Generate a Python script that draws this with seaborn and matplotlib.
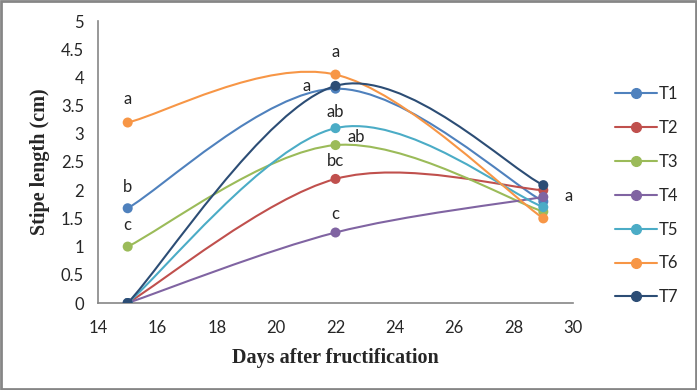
import numpy as np
import pandas as pd
import seaborn as sns
import matplotlib.pyplot as plt
from matplotlib.path import Path
from matplotlib.patches import PathPatch, Rectangle
from matplotlib.lines import Line2D

# data
days = [15, 22, 29]
treatments = ["T1", "T2", "T3", "T4", "T5", "T6", "T7"]
t1 = [1.68, 3.80, 1.80]
t2 = [0.00, 2.20, 2.00]
t3 = [1.00, 2.80, 1.62]
t4 = [0.00, 1.25, 1.88]
t5 = [0.00, 3.10, 1.70]
t6 = [3.20, 4.05, 1.50]
t7 = [0.00, 3.85, 2.09]
series = [t1, t2, t3, t4, t5, t6, t7]

# significance letters per treatment and day ("" = none)
letters = {
    "T1": ["b", "", ""],
    "T2": ["", "bc", ""],
    "T3": ["c", "ab", ""],
    "T4": ["", "c", "a"],
    "T5": ["", "ab", ""],
    "T6": ["a", "a", ""],
    "T7": ["", "a", ""],
}

colors = ["#4F81BD", "#C0504D", "#9BBB59", "#8064A2", "#4BACC6", "#F79646", "#2C4D75"]

sns.set_style("white")
tick_font = "Lato"
label_font = "Liberation Serif"
fs = 12


def smooth_path(xs, ys):
    # excel-style smoothed line: cubic bezier, catmull-rom control points
    pts = np.column_stack([xs, ys]).astype(float)
    n = len(pts)
    verts = [pts[0]]
    codes = [Path.MOVETO]
    for i in range(n - 1):
        p0 = pts[max(i - 1, 0)]
        p1 = pts[i]
        p2 = pts[i + 1]
        p3 = pts[min(i + 2, n - 1)]
        c1 = p1 + (p2 - p0) / 6.0
        c2 = p2 - (p3 - p1) / 6.0
        verts += [c1, c2, p2]
        codes += [Path.CURVE4] * 3
    return Path(verts, codes)


fig = plt.figure(figsize=(6.97, 3.90), dpi=100)
ax = fig.add_axes([98 / 697, 1 - 303 / 390, 475 / 697, 282 / 390])

for k, (name, vals, col) in enumerate(zip(treatments, series, colors)):
    z = 3 + k * 0.1
    ax.add_patch(PathPatch(smooth_path(days, vals), facecolor="none",
                           edgecolor=col, lw=1.5, zorder=z))
    df = pd.DataFrame({"day": days, "len": vals})
    sns.scatterplot(data=df, x="day", y="len", color=col, s=52,
                    edgecolor="none", ax=ax, zorder=z + 0.05)

# letter offsets (points) for each labelled marker
offsets = {
    ("T1", 0): (0, 12), ("T3", 0): (0, 12), ("T6", 0): (0, 13),
    ("T6", 1): (0, 13), ("T7", 1): (-21, -3.5), ("T5", 1): (0, 8),
    ("T3", 1): (15, 2), ("T2", 1): (0, 9.5), ("T4", 1): (0, 9.5),
    ("T4", 2): (18, -3),
}
for name, vals in zip(treatments, series):
    for j, lab in enumerate(letters[name]):
        if lab:
            dx, dy = offsets[(name, j)]
            ax.annotate(lab, (days[j], vals[j]), xytext=(dx, dy),
                        textcoords="offset points", ha="center", va="baseline",
                        fontsize=fs, family=tick_font, zorder=10)

ax.set_xlim(14, 30)
ax.set_ylim(0, 5)
ax.set_xticks(np.arange(14, 31, 2))
ax.set_yticks(np.arange(0, 5.01, 0.5))
ax.set_yticklabels([f"{v:g}" for v in np.arange(0, 5.01, 0.5)])
for s in ["top", "right"]:
    ax.spines[s].set_visible(False)
for s in ["left", "bottom"]:
    ax.spines[s].set_color("#868686")
    ax.spines[s].set_linewidth(1.2)
ax.tick_params(axis="both", direction="out", length=5, width=1.2,
               color="#868686", labelsize=fs)
ax.tick_params(axis="x", pad=7)
ax.tick_params(axis="y", pad=5)
for t in ax.get_xticklabels() + ax.get_yticklabels():
    t.set_family(tick_font)

ax.set_xlabel("Days after fructification", fontsize=14.5, fontweight="bold",
              family=label_font, labelpad=9)
ax.set_ylabel("Stipe length (cm)", fontsize=14.5, fontweight="bold",
              family=label_font, labelpad=8)

handles = [Line2D([0], [0], color=c, lw=1.5, marker="o", markersize=7)
           for c in colors]
leg = fig.legend(handles, treatments, loc="upper left",
                 bbox_to_anchor=(607 / 697, 1 - 78 / 390), frameon=False,
                 handlelength=2.5, handletextpad=0.1, labelspacing=1.07,
                 borderpad=0, prop={"family": tick_font, "size": fs})

fig.add_artist(Rectangle((0.001, 0.002), 0.997, 0.995, transform=fig.transFigure,
                         fill=False, edgecolor="#868686", lw=2))

fig.savefig("out.png", dpi=100)
